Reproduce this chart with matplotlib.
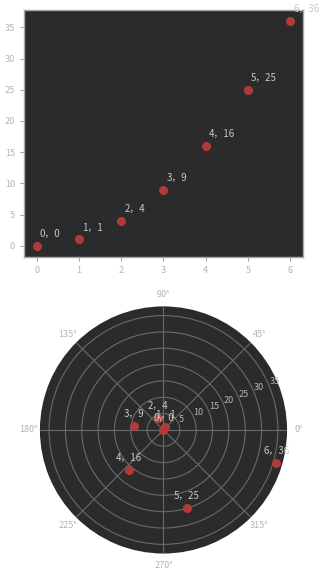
import numpy as np
import matplotlib
matplotlib.use("Agg")
import matplotlib.pyplot as plt

plt.rcParams['font.family'] = ['Noto Sans CJK SC', 'DejaVu Sans']

# data
xs = [0, 1, 2, 3, 4, 5, 6]
ys = [0, 1, 4, 9, 16, 25, 36]
labels = [f"{x}，{y}" for x, y in zip(xs, ys)]

BG = '#2b2b2b'
DOT = '#b23a3a'
TXT = '#c8c8c8'
TICK = '#b4b4b4'
SPINE = '#a8a8a8'

fig = plt.figure(figsize=(3.26, 5.79), dpi=100)
fig.subplots_adjust(left=0.074, right=0.929, top=0.983, bottom=0.044, hspace=0.2)

# ---- cartesian ----
ax1 = fig.add_subplot(211)
ax1.set_facecolor(BG)
ax1.scatter(xs, ys, s=30, color=DOT, zorder=3)
for x, y, lab in zip(xs, ys, labels):
    ax1.annotate(lab, (x, y), xytext=(3, 7), textcoords='offset pixels',
                 ha='left', va='bottom', fontsize=7, color=TXT,
                 annotation_clip=False)
ax1.tick_params(colors=SPINE, labelcolor=TICK, labelsize=6.5, length=3, width=0.8)
for sp in ax1.spines.values():
    sp.set_color(SPINE)
    sp.set_linewidth(1.0)

# ---- polar ----
ax2 = fig.add_subplot(212, projection='polar')
ax2.set_facecolor(BG)
ax2.scatter(xs, ys, s=30, color=DOT, zorder=3)
for x, y, lab in zip(xs, ys, labels):
    ax2.annotate(lab, (x, y), xytext=(0, 7), textcoords='offset pixels',
                 ha='center', va='bottom', fontsize=7, color=TXT,
                 annotation_clip=False)
ax2.grid(True, color='#6a6a6a', linewidth=0.8)
ax2.tick_params(colors=TICK, labelcolor=TICK, labelsize=6.5)
ax2.tick_params(axis='x', pad=-2)
ax2.spines['polar'].set_visible(False)

fig.savefig('out.png', dpi=100)
